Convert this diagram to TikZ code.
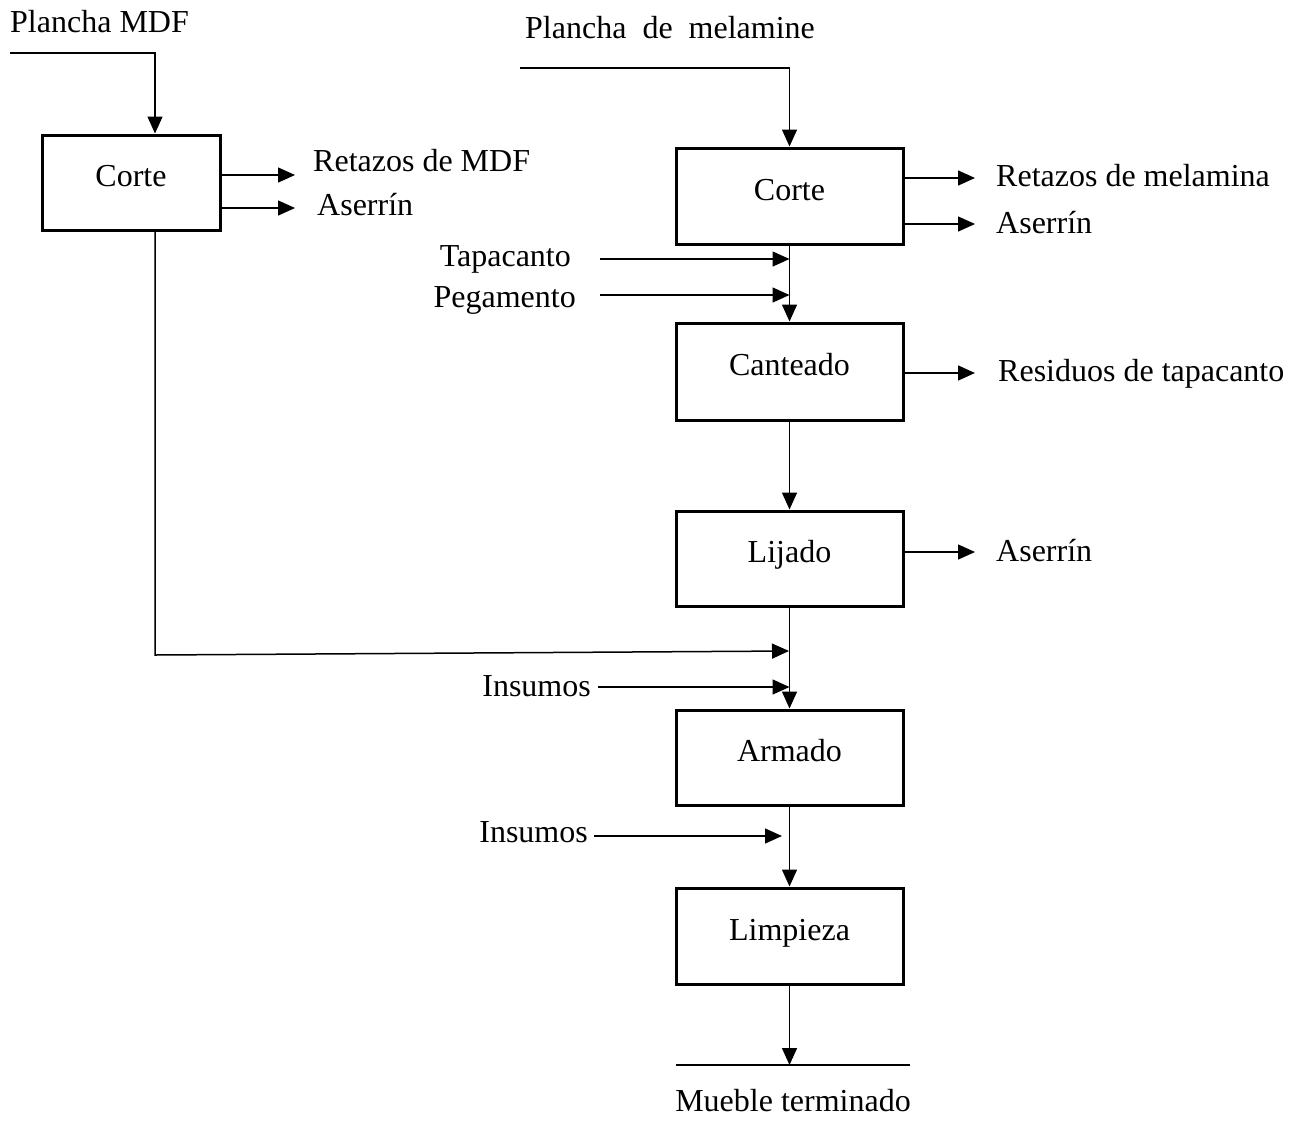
\documentclass[tikz,border=0pt]{standalone}
\usepackage{fontspec}
\setmainfont{Liberation Serif}
\usetikzlibrary{arrows.meta}
\begin{document}
\begin{tikzpicture}[x=1pt,y=-1pt,
  font=\fontsize{32}{38}\selectfont,
  box/.style={draw, line width=3pt, minimum width=227pt, minimum height=96pt, inner sep=0pt, text height=22pt, text depth=14pt},
  conn/.style={line width=1.5pt, -{Triangle[length=17pt,width=15pt]}},
  plain/.style={line width=1.5pt},
  lbl/.style={inner sep=0pt, anchor=base west}]
\useasboundingbox (0,0) rectangle (1303,1133);
\fill[white] (0,0) rectangle (1303,1133);

% process boxes
\node[box, minimum width=178pt, minimum height=95pt] (c1) at (131,182.5) {Corte};
\node[box] (c2) at (789.5,196) {Corte};
\node[box, minimum height=97pt] (k) at (789.5,371.5) {Canteado};
\node[box, minimum height=95pt] (l) at (789.5,558.5) {Lijado};
\node[box, minimum height=95pt] (a) at (789.5,757.5) {Armado};
\node[box] (p) at (789.5,936) {Limpieza};

% labels
\node[lbl] (tmdf) at (10,32) {Plancha MDF};
\node[lbl] (tmel) at (525,38) {Plancha~ de~ melamine};
\node[lbl] (r1) at (313,171) {Retazos de MDF};
\node[lbl] (s1) at (317,215) {Aserrín};
\node[lbl] (r2) at (996,186) {Retazos de melamina};
\node[lbl] (s2) at (996,233) {Aserrín};
\node[lbl, anchor=base east] (tap) at (571,266) {Tapacanto};
\node[lbl, anchor=base east] (peg) at (576,307) {Pegamento};
\node[lbl] (res) at (998,381) {Residuos de tapacanto};
\node[lbl] (s3) at (996,561) {Aserrín};
\node[lbl, anchor=base east] (ins1) at (591,696) {Insumos};
\node[lbl, anchor=base east] (ins2) at (588,842) {Insumos};
\node[lbl, anchor=base] (mt) at (793,1111) {Mueble terminado};

% coordinates
\coordinate (mdfa) at (10,53);
\coordinate (mdfb) at (155,53);
\coordinate (mdfc) at (155,655);
\coordinate (mdfd) at (789,651);
\coordinate (o1) at (295,175);
\coordinate (o2) at (295,208);
\coordinate (mela) at (520,68);
\coordinate (o3) at (975,178);
\coordinate (o4) at (975,224);
\coordinate (tapa) at (600,259);
\coordinate (pega) at (600,295);
\coordinate (o5) at (975,373);
\coordinate (o6) at (975,552);
\coordinate (insa) at (598,687);
\coordinate (insb) at (594,836);
\coordinate (insbe) at (782,836);
\coordinate (fin) at (789,1065);
\coordinate (fl) at (676,1065);
\coordinate (fr) at (910,1065);

% connectors
\draw[conn] (mdfa) -- (mdfb) -- (mdfb |- c1.north);
\draw[conn] (c1.east |- o1) -- (o1);
\draw[conn] (c1.east |- o2) -- (o2);
\draw[conn] (mela) -| (c2.north);
\draw[conn] (c2.east |- o3) -- (o3);
\draw[conn] (c2.east |- o4) -- (o4);
\draw[conn] (c2) -- (k);
\draw[conn] (tapa) -- (tapa -| c2.south);
\draw[conn] (pega) -- (pega -| c2.south);
\draw[conn] (k.east |- o5) -- (o5);
\draw[conn] (k) -- (l);
\draw[conn] (l.east |- o6) -- (o6);
\draw[conn] (l) -- (a);
\draw[conn] (c1.south -| mdfb) -- (mdfc) -- (mdfd);
\draw[conn] (insa) -- (insa -| a.north);
\draw[conn] (a) -- (p);
\draw[conn] (insb) -- (insbe);
\draw[conn] (p) -- (p.south |- fin);
\draw[plain] (fl) -- (fr);
\end{tikzpicture}
\end{document}
